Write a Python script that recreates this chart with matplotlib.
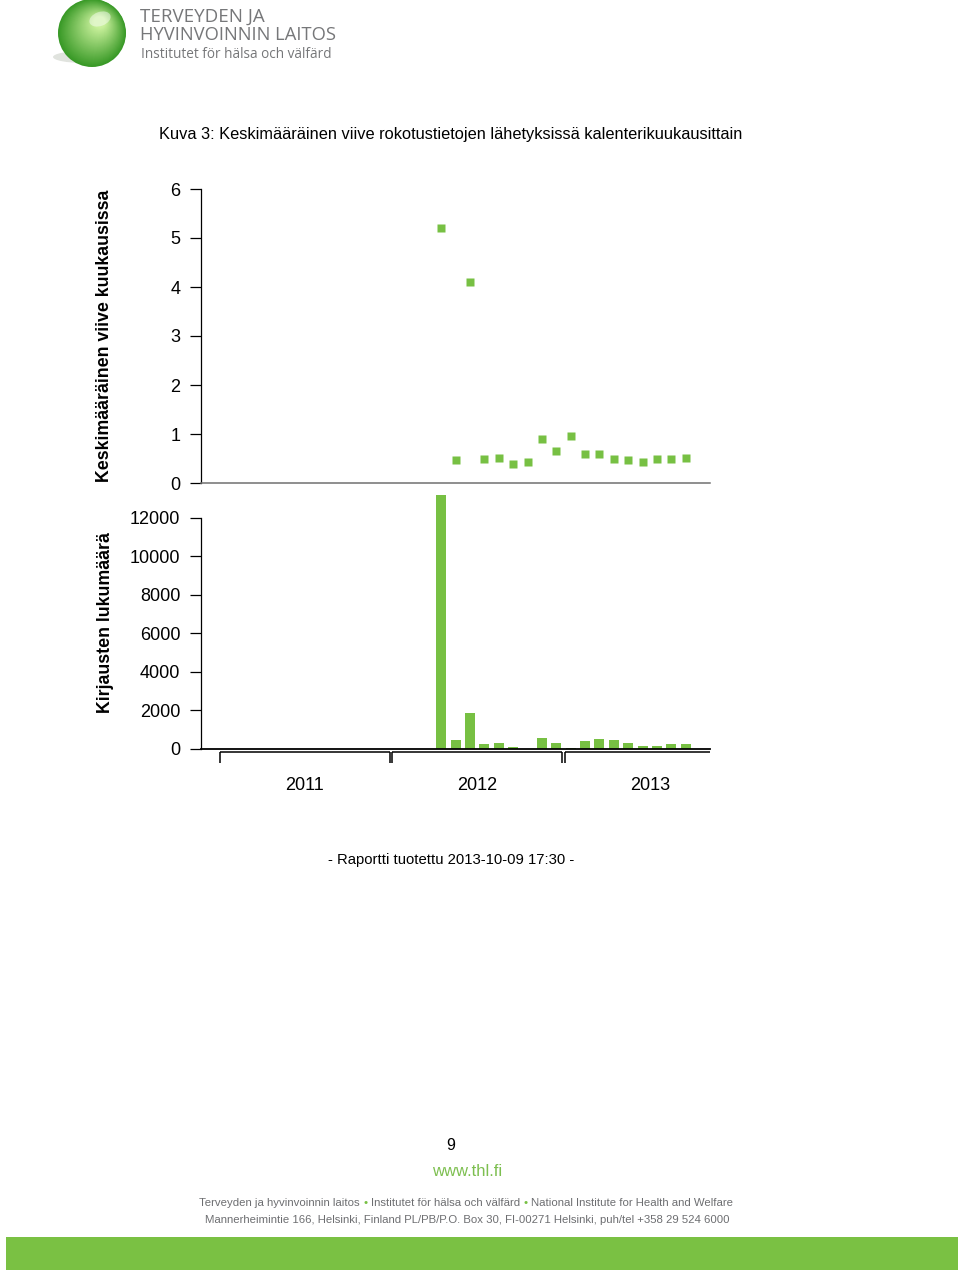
import matplotlib
matplotlib.use("Agg")
import matplotlib.pyplot as plt
from matplotlib.patches import Circle, Ellipse, Rectangle
import matplotlib.transforms as mtransforms
import numpy as np

# ---------------- data ----------------
months = ["2012-04", "2012-05", "2012-06", "2012-07", "2012-08", "2012-09",
          "2012-10", "2012-11", "2012-12", "2013-01", "2013-02", "2013-03",
          "2013-04", "2013-05", "2013-06", "2013-07", "2013-08", "2013-09"]
delay = [5.20, 0.46, 4.10, 0.49, 0.52, 0.39, 0.42, 0.89, 0.66, 0.96,
         0.59, 0.59, 0.49, 0.46, 0.42, 0.49, 0.49, 0.52]
counts = [13200, 470, 1870, 260, 300, 120, 0, 590, 300, 50,
          420, 500, 450, 310, 170, 150, 240, 260]
years = ["2011", "2012", "2013"]
delay_ticks = [0, 1, 2, 3, 4, 5, 6]
count_ticks = [0, 2000, 4000, 6000, 8000, 10000, 12000]

title = "Kuva 3: Keskimääräinen viive rokotustietojen lähetyksissä kalenterikuukausittain"
ylabel_top = "Keskimääräinen viive kuukausissa"
ylabel_bottom = "Kirjausten lukumäärä"
report_note = "- Raportti tuotettu 2013-10-09 17:30 -"

GREEN = "#77C043"
GRAY_TXT = "#6d6e71"

plt.rcParams['font.family'] = ['Liberation Sans', 'DejaVu Sans']

W, H = 960, 1272
fig = plt.figure(figsize=(W / 100, H / 100), dpi=100)


def px(x0, y0, x1, y1):
    return [x0 / W, 1 - y1 / H, (x1 - x0) / W, (y1 - y0) / H]


# month geometry (pixels): Jan 2011 starts at X0, each month MW px
MW = 14.375
X0 = 218.5
xlim = ((201 - X0) / MW, (710 - X0) / MW)
xpos = [(int(m[:4]) - 2011) * 12 + int(m[5:]) - 1 + 0.5 for m in months]

# ---------------- bottom panel: counts ----------------
ax2 = fig.add_axes(px(201, 483, 710, 749))
ax2.patch.set_visible(False)
ax2.bar(xpos, counts, width=0.7, color=GREEN, linewidth=0)
ax2.set_xlim(xlim)
ax2.set_ylim(0, 12000 * 266 / 231)
ax2.set_yticks(count_ticks)
ax2.set_xticks([])
for s in ("top", "right"):
    ax2.spines[s].set_visible(False)
ax2.spines["left"].set_bounds(0, 12000)
ax2.spines["left"].set_linewidth(0.9)
ax2.spines["bottom"].set_linewidth(1.3)
ax2.tick_params(axis="y", length=8, width=0.9, pad=7, labelsize=13)

# ---------------- top panel: delay ----------------
ax1 = fig.add_axes(px(201, 189, 710, 483))
ax1.patch.set_visible(False)
ax1.plot(xpos, delay, linestyle="none", marker="s", ms=5.8, color=GREEN,
         mec="none", clip_on=False)
ax1.set_xlim(xlim)
ax1.set_ylim(0, 6)
ax1.set_yticks(delay_ticks)
ax1.set_xticks([])
for s in ("top", "right"):
    ax1.spines[s].set_visible(False)
ax1.spines["bottom"].set_color("#707070")
ax1.spines["bottom"].set_linewidth(1.1)
ax1.spines["left"].set_linewidth(0.9)
ax1.tick_params(axis="y", length=8, width=0.9, pad=7, labelsize=13)

# year brackets
trans = mtransforms.blended_transform_factory(ax2.transData, ax2.transAxes)
yb = -3.5 / 266
yb2 = -14.0 / 266
gap = 0.1
for i, yr in enumerate(years):
    a = i * 12 + gap
    b = (i + 1) * 12 - gap
    if i == len(years) - 1:
        b = xlim[1]
    ax2.plot([a, b], [yb, yb], transform=trans, color="black", lw=1.1,
             clip_on=False, solid_capstyle="butt")
    ax2.plot([a, a], [yb, yb2], transform=trans, color="black", lw=1.1,
             clip_on=False, solid_capstyle="butt")
    if i < len(years) - 1:
        ax2.plot([b, b], [yb, yb2], transform=trans, color="black", lw=1.1,
                 clip_on=False, solid_capstyle="butt")
    ax2.text(i * 12 + 6, -37 / 266, yr, transform=trans, ha="center",
             va="center", fontsize=13)

# axis labels
fig.text(105 / W, 1 - 336 / H, ylabel_top, rotation=90, ha="center",
         va="center", fontsize=12.8, fontweight="bold")
fig.text(105 / W, 1 - 623 / H, ylabel_bottom, rotation=90, ha="center",
         va="center", fontsize=12.8, fontweight="bold")

# title and note
fig.text(451 / W, 1 - 134.5 / H, title, ha="center", va="center", fontsize=11.8)
fig.text(451 / W, 1 - 860 / H, report_note, ha="center", va="center",
         fontsize=10.7)

# ---------------- page decoration (pixel overlay) ----------------
ov = fig.add_axes([0, 0, 1, 1], zorder=-1)
ov.set_xlim(0, W)
ov.set_ylim(H, 0)
ov.axis("off")

# logo sphere
ov.add_patch(Ellipse((84, 57), 62, 12, color="#d9dcd6", alpha=0.8, lw=0))
N = 40
c_dark = np.array([0.22, 0.60, 0.15])
c_light = np.array([0.80, 0.95, 0.62])
cx, cy, r = 92, 33, 34
for k in range(N):
    f = k / N
    rr = r * (1 - f * 0.85)
    ccx = cx + (100 - cx) * f
    ccy = cy + (22 - cy) * f
    col = c_dark * (1 - f) + c_light * f
    ov.add_patch(Circle((ccx, ccy), rr, color=col, lw=0))
ov.add_patch(Ellipse((100, 19), 22, 14, angle=-20, color="white", alpha=0.45, lw=0))

ov.text(140, 17, "TERVEYDEN JA", fontsize=13.5, color="#767779",
        family="Open Sans", va="center", ha="left")
ov.text(140, 35, "HYVINVOINNIN LAITOS", fontsize=13.2, color="#767779",
        family="Open Sans", va="center", ha="left")
ov.text(141, 55, "Institutet för hälsa och välfärd", fontsize=9.8,
        color="#767779", family="Open Sans", va="center", ha="left")

# footer
ov.text(451, 1145, "9", fontsize=11.5, ha="center", va="center")
ov.text(467, 1171, "www.thl.fi", fontsize=12, color="#7dbf50",
        ha="center", va="center")

FS = 8.2
line1 = [("Terveyden ja hyvinvoinnin laitos", GRAY_TXT), ("•", GREEN),
         ("Institutet för hälsa och välfärd", GRAY_TXT), ("•", GREEN),
         ("National Institute for Health and Welfare", GRAY_TXT)]
prev = None
for txt, col in line1:
    if prev is None:
        prev = ov.text(199, 1203, txt, fontsize=FS, color=col,
                       ha="left", va="center")
    else:
        prev = ov.annotate(txt, xy=(1, 0), xycoords=prev, fontsize=FS,
                           color=col, ha="left", va="bottom",
                           xytext=(2.6, 0), textcoords="offset points")
ov.text(467, 1220,
        "Mannerheimintie 166, Helsinki, Finland PL/PB/P.O. Box 30, "
        "FI-00271 Helsinki, puh/tel +358 29 524 6000",
        fontsize=FS, color=GRAY_TXT, ha="center", va="center")

ov.add_patch(Rectangle((6, 1237), 952, 33, color="#7AC143", lw=0))

fig.savefig("out.png", dpi=100)
